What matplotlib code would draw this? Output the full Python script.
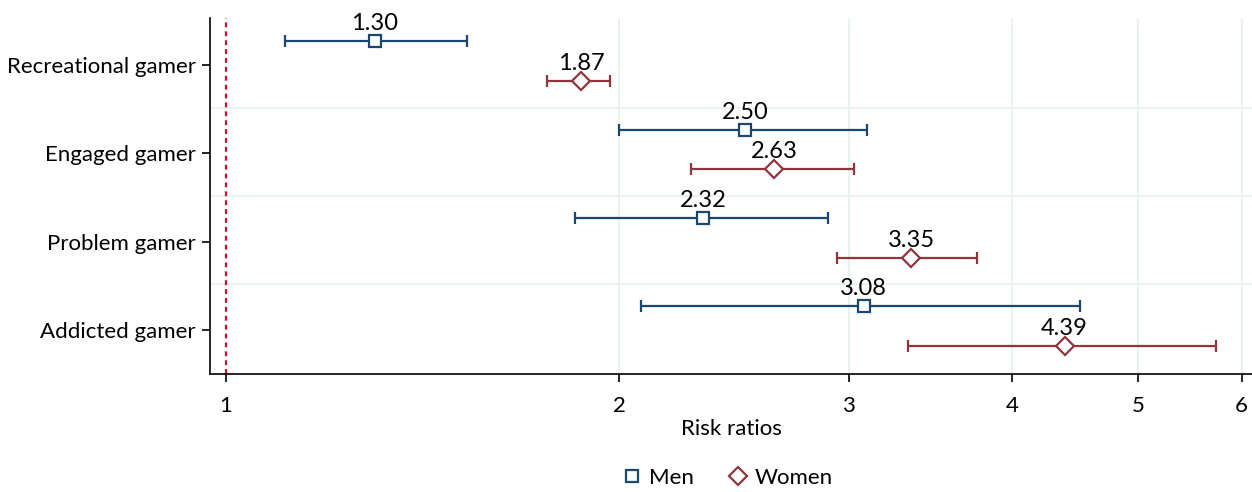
import matplotlib.pyplot as plt
from matplotlib.ticker import FixedLocator, NullLocator, FixedFormatter
from matplotlib.lines import Line2D

plt.rcParams['font.family'] = ['Lato', 'DejaVu Sans']

categories = ["Recreational gamer", "Engaged gamer", "Problem gamer", "Addicted gamer"]
men_rr = [1.30, 2.50, 2.32, 3.08]
men_lo = [1.11, 2.00, 1.85, 2.08]
men_hi = [1.53, 3.10, 2.89, 4.51]
women_rr = [1.87, 2.63, 3.35, 4.39]
women_lo = [1.76, 2.27, 2.94, 3.33]
women_hi = [1.97, 3.03, 3.76, 5.73]
xticks = [1, 2, 3, 4, 5, 6]

men_col = '#1a476f'
women_col = '#90353b'
grid_col = '#e6eff1'

fig = plt.figure(figsize=(12.52, 4.92), dpi=100)
ax = fig.add_axes([0.1677, 0.2398, 0.8323, 0.7236])

ax.set_xscale('log')
ax.set_xlim(0.972, 6.11)
ax.set_ylim(3.5, -0.534)

# gridlines
for t in xticks[1:]:
	ax.axvline(t, color=grid_col, lw=1.2, zorder=0)
for i in range(len(categories) - 1):
	ax.axhline(i + 0.485, color=grid_col, lw=1.2, zorder=0)

ax.axvline(1, color='#c8102e', lw=1.6, ls=(0, (2.2, 1.8)), zorder=1)

def draw(rr, lo, hi, off, col, marker, ms):
	ys = [i + off for i in range(len(rr))]
	err = [[r - l for r, l in zip(rr, lo)], [h - r for r, h in zip(rr, hi)]]
	ax.errorbar(rr, ys, xerr=err, fmt='none', ecolor=col, elinewidth=1.6,
				capsize=4.5, capthick=1.6, zorder=2)
	ax.plot(rr, ys, ls='none', marker=marker, ms=ms, mfc='white', mec=col,
			mew=1.6, zorder=3)
	for r, y in zip(rr, ys):
		ax.annotate("%.2f" % r, (r, y), xytext=(0, 5), textcoords='offset points',
					ha='center', va='bottom', fontsize=17)

draw(men_rr, men_lo, men_hi, -0.27, men_col, 's', 8.5)
draw(women_rr, women_lo, women_hi, 0.18, women_col, 'D', 9)

ax.xaxis.set_major_locator(FixedLocator(xticks))
ax.xaxis.set_major_formatter(FixedFormatter([str(t) for t in xticks]))
ax.xaxis.set_minor_locator(NullLocator())
ax.set_yticks(range(len(categories)))
ax.set_yticklabels(categories)
ax.tick_params(axis='both', labelsize=16, length=6, width=1.2, direction='out')
ax.tick_params(axis='y', pad=4)
ax.tick_params(axis='x', pad=10)
ax.set_xlabel("Risk ratios", fontsize=16, labelpad=2)

for s in ['top', 'right']:
	ax.spines[s].set_visible(False)
for s in ['left', 'bottom']:
	ax.spines[s].set_linewidth(1.2)

handles = [
	Line2D([], [], ls='none', marker='s', ms=8, mfc='white', mec=men_col, mew=1.6),
	Line2D([], [], ls='none', marker='D', ms=9, mfc='white', mec=women_col, mew=1.6),
]
fig.legend(handles, ["Men", "Women"], loc='center', bbox_to_anchor=(0.5807, 0.029),
		   ncol=2, frameon=False, fontsize=16, handletextpad=0.25, columnspacing=1.5,
		   handlelength=1.0, borderpad=0)

fig.savefig('out.png', dpi=100)
